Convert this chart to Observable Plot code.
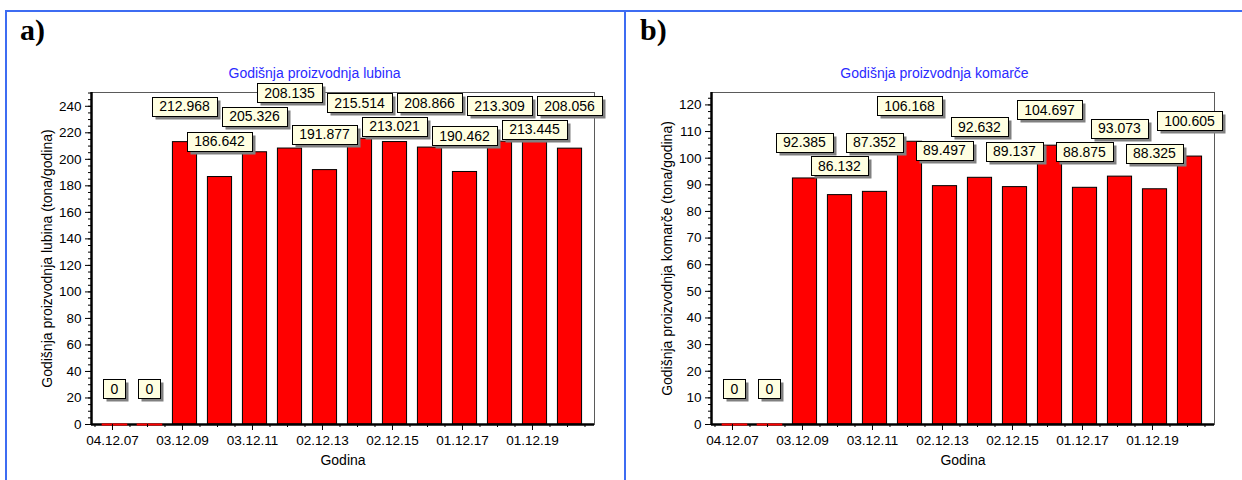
<!DOCTYPE html>
<html><head><meta charset="utf-8">
<script src="https://cdn.jsdelivr.net/npm/d3@7"></script>
<script src="https://cdn.jsdelivr.net/npm/@observablehq/plot@0.6"></script>
<style>
body{margin:0;background:#fff;}
#fig{position:relative;width:1242px;height:480px;overflow:hidden;font-family:"Liberation Sans",Arial,sans-serif;background:#fff;}
.panel{position:absolute;top:0;width:620px;height:480px;}
.tag{position:absolute;left:20px;top:15px;font:bold 30px "Liberation Serif","Times New Roman",serif;line-height:30px;color:#000;}
.title{position:absolute;left:0;width:629px;text-align:center;top:65px;font-size:14px;line-height:16px;color:#2a2aff;}
.bl{position:absolute;background:#3d6cf2;}
</style></head>
<body>
<div id="fig">
  <div class="panel" id="pa" style="left:0"></div>
  <div class="panel" id="pb" style="left:620px"></div>
  <div class="bl" style="left:5px;top:9.5px;width:1237px;height:2px"></div>
  <div class="bl" style="left:5px;top:9.5px;width:2px;height:471px"></div>
  <div class="bl" style="left:624px;top:9.5px;width:2px;height:471px"></div>
</div>
<script>
// ---- data ----
const dateTicks = ["04.12.07", "03.12.09", "03.12.11", "02.12.13", "02.12.15", "01.12.17", "01.12.19"];
const lubina = [0, 0, 212.968, 186.642, 205.326, 208.135, 191.877, 215.514, 213.021, 208.866, 190.462, 213.309, 213.445, 208.056];
const komarce = [0, 0, 92.385, 86.132, 87.352, 106.168, 89.497, 92.632, 89.137, 104.697, 88.875, 93.073, 88.325, 100.605];
const panelTags = ["a)", "b)"];
const panelTitles = ["Godišnja proizvodnja lubina", "Godišnja proizvodnja komarče"];
const yTitles = ["Godišnja proizvodnja lubina (tona/godina)", "Godišnja proizvodnja komarče (tona/godina)"];
const xTitle = "Godina";

const FONT = "'Liberation Sans', Arial, sans-serif";
const cv = document.createElement("canvas").getContext("2d");
cv.font = "14px 'Liberation Sans', Arial";
const textWidth = s => cv.measureText(s).width || s.length * 7.8;

function labelMark(values) {
  return (index, scales) => {
    const {x, y} = scales;
    const g = d3.create("svg:g").attr("font-family", FONT).attr("font-size", 14);
    let prev = null;
    values.forEach((v, i) => {
      const txt = String(v);
      const w = Math.round(textWidth(txt) + 14);
      const cx = x(i);
      const top = y(v);
      let cy = top - 35.5;
      if (prev && Math.abs(cx - prev.cx) < (w + prev.w) / 2 + 2 && Math.abs(cy - prev.cy) < 21) {
        const down = prev.cy + 23.5;
        cy = (down + 9.5 <= top - 1) ? down : prev.cy - 23.5;
      }
      prev = {cx, cy, w};
      const x0 = Math.round(cx - w / 2) + 0.5, y0 = Math.round(cy - 9.5) + 0.5;
      g.append("rect").attr("x", x0 + 3).attr("y", y0 + 3).attr("width", w).attr("height", 19).attr("fill", "#808080");
      g.append("rect").attr("x", x0).attr("y", y0).attr("width", w).attr("height", 19)
        .attr("fill", "#ffffe1").attr("stroke", "#000").attr("stroke-width", 1);
      g.append("text").attr("x", cx).attr("y", cy).attr("dy", "0.36em").attr("text-anchor", "middle")
        .attr("fill", "#000").text(txt);
    });
    return g.node();
  };
}

function panel(el, k, values, yMax, yStep, yMinor) {
  const n = values.length;
  const data = values.map((v, i) => ({i, v}));
  const xDom = [-0.671, n - 0.3];
  const half = 0.345;
  const chart = Plot.plot({
    width: 620, height: 480,
    marginLeft: 91, marginRight: 26, marginTop: 92, marginBottom: 56,
    x: {type: "linear", domain: xDom},
    y: {domain: [0, yMax]},
    style: {fontFamily: FONT, fontSize: "13.5px", color: "#000", background: "transparent", overflow: "visible"},
    marks: [
      Plot.frame({stroke: "#5a5a5a", strokeWidth: 1}),
      Plot.rect(data, {filter: d => d.v > 0, x1: d => d.i - half, x2: d => d.i + half, y1: d => 0, y2: "v",
        fill: "#ff0000", stroke: "#000", strokeWidth: 1}),
      Plot.ruleX([xDom[0]], {stroke: "#000", strokeWidth: 2.5}),
      Plot.ruleY([0], {stroke: "#000", strokeWidth: 2.5}),
      Plot.ruleY(data, {filter: d => d.v === 0, x1: d => d.i - half - 0.02, x2: d => d.i + half + 0.02, y: "v",
        stroke: "#ff0000", strokeWidth: 2}),
      Plot.axisY({ticks: d3.range(0, yMax, yStep), tickSize: 6, tickPadding: 4, label: null, fontSize: 13.5}),
      Plot.axisY({ticks: d3.range(0, yMax, yMinor), tickSize: 3, tickFormat: () => "", label: null}),
      Plot.axisX({ticks: d3.range(0, n, 2), tickFormat: i => dateTicks[i / 2], tickSize: 6, tickPadding: 5,
        label: null, dx: -2.5, fontSize: 13.5}),
      Plot.axisX({ticks: d3.range(-0.5, n, 0.5), tickSize: 3, tickFormat: () => "", label: null, dx: -2.5}),
      Plot.text([yTitles[k]], {frameAnchor: "left", textAnchor: "middle", rotate: -90, dx: -43.5, lineAnchor: "middle", fontSize: 14}),
      Plot.text([xTitle], {frameAnchor: "bottom", textAnchor: "middle", dy: 36.5, lineAnchor: "middle", fontSize: 14}),
      labelMark(values)
    ]
  });
  el.appendChild(chart);
  const tag = document.createElement("div"); tag.className = "tag"; tag.textContent = panelTags[k]; el.appendChild(tag);
  const t = document.createElement("div"); t.className = "title"; t.textContent = panelTitles[k]; el.appendChild(t);
}

panel(document.getElementById("pa"), 0, lubina, 250.4, 20, 5);
panel(document.getElementById("pb"), 1, komarce, 124.66, 10, 2.5);
</script>
</body></html>
